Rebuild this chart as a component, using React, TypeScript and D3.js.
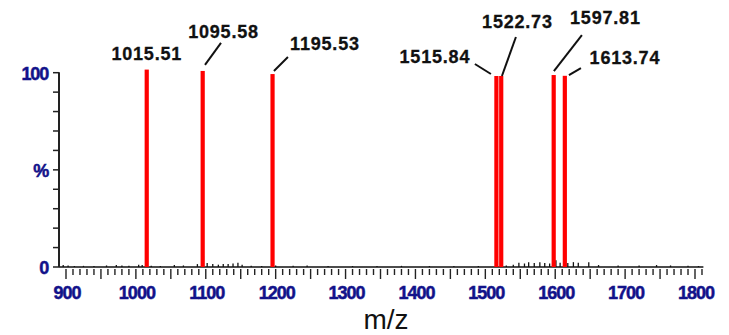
import * as d3 from 'd3';

// peaks (m/z, relative intensity %)
const peakMz = [1015.51, 1095.58, 1195.53, 1515.84, 1522.73, 1597.81, 1613.74];
const peakIntensity = [101.6, 100.9, 99.3, 98.3, 98.3, 98.8, 98.4];

// small background signals
const noiseMz = [896, 903, 912, 925, 940, 958, 972, 980, 990, 1004, 1009, 1022, 1035, 1055, 1068, 1088, 1096.6, 1102, 1110, 1118, 1125, 1132, 1139, 1146, 1152, 1165, 1180, 1200, 1225, 1245, 1275, 1310, 1345, 1380, 1420, 1455, 1490, 1530, 1540, 1548, 1556, 1562, 1570, 1578, 1585, 1592, 1601, 1607, 1618, 1626, 1633, 1648, 1662, 1690, 1720, 1745, 1765, 1790, 1805];
const noiseIntensity = [1, 0.8, 0.5, 0.6, 0.5, 0.8, 1, 0.8, 0.6, 1.2, 1, 0.6, 0.5, 1, 0.8, 1.5, 5.5, 2, 1.5, 1.2, 1.5, 1.5, 1.8, 2.2, 1.2, 0.6, 0.5, 0.8, 0.6, 0.8, 0.5, 0.5, 0.5, 0.6, 0.5, 0.5, 0.5, 0.8, 1.2, 2.2, 1.8, 2.5, 2, 2.5, 2, 1.8, 3.5, 2.2, 2, 2.5, 2.2, 2.5, 1, 0.8, 0.8, 1, 0.8, 0.7, 0.5];

const xTicks = [900, 1000, 1100, 1200, 1300, 1400, 1500, 1600, 1700, 1800];
const yTickValues = [0, 50, 100];
const yTickLabels = ['0', '%', '100'];

// label placement relative to peak top: [text dx, text dy, leader x1, y1, x2, y2]
const labelLayout: number[][] = [
  [0, -9.5],
  [20.8, -33, 18.3, -28, 2.3, -6],
  [52.4, -24, 15.4, -17, 1.4, -3],
  [-61.5, -13, -21.5, -12, -5.5, -2],
  [16.2, -48, 14.7, -39, 0.7, 0],
  [51.7, -51, 28.2, -40, 0.2, -4],
  [60.1, -11.7, 16.1, -7.7, 4.1, -0.7],
];

const W = 729;
const H = 335;
const navy = '#12128a';

export default function App() {
  const x = d3.scaleLinear().domain([900, 1800]).range([66, 695]);
  const y = d3.scaleLinear().domain([0, 100]).range([267, 72.7]);
  const x0 = 59;
  const xEnd = x(1812);

  const minor = d3.range(900, 1811, 10);
  const yMinor = d3.range(0, 101, 10);

  const baseline = d3.line()([[x0, y(0)], [xEnd, y(0)]]);

  return (
    <svg width={W} height={H} style={{ position: 'absolute', left: 0, top: 0, background: '#fff' }}
      fontFamily="'Liberation Sans', Arial, sans-serif">
      {/* baseline + noise sticks */}
      <path d={baseline ?? ''} stroke="#111" strokeWidth={1.5} fill="none" />
      {noiseMz.map((m, i) => (
        <line key={'n' + i} x1={x(m)} x2={x(m)} y1={y(0)} y2={y(noiseIntensity[i])} stroke="#111" strokeWidth={1.3} />
      ))}

      {/* y axis */}
      <line x1={x0} x2={x0} y1={y(100) - 0.5} y2={y(0)} stroke="#222" strokeWidth={2} />
      {yMinor.map(v => (
        <line key={'yt' + v} x1={x0 - 6} x2={x0} y1={y(v)} y2={y(v)} stroke="#222" strokeWidth={1.5} />
      ))}
      {yTickValues.map((v, i) => (
        <text key={'yl' + v} x={x0 - 11} y={y(v) + 7} textAnchor="end" fontSize={18} fontWeight="bold"
          letterSpacing={-1.2} fill={navy} stroke={navy} strokeWidth={0.5}>{yTickLabels[i]}</text>
      ))}

      {/* x ticks */}
      {minor.map(v => (
        <line key={'xt' + v} x1={x(v)} x2={x(v)} y1={269} y2={v % 50 === 0 ? 279 : 275} stroke="#222" strokeWidth={1.4} />
      ))}
      {xTicks.map(v => (
        <text key={'xl' + v} x={x(v) + 1} y={299} textAnchor="middle" fontSize={18} fontWeight="bold"
          letterSpacing={-1} fill={navy} stroke={navy} strokeWidth={0.5}>{v}</text>
      ))}
      <text x={386} y={329} textAnchor="middle" fontSize={28} fill="#111">m/z</text>

      {/* peaks */}
      {peakMz.map((m, i) => (
        <rect key={'p' + i} x={x(m) - 2.1} width={4.2} y={y(peakIntensity[i])} height={y(0) - y(peakIntensity[i])}
          fill="#ff0000" />
      ))}

      {/* peak labels */}
      {peakMz.map((m, i) => {
        const px = x(m);
        const py = y(peakIntensity[i]);
        const l = labelLayout[i];
        return (
          <g key={'l' + i}>
            {l.length > 2 && (
              <line x1={px + l[2]} y1={py + l[3]} x2={px + l[4]} y2={py + l[5]} stroke="#111" strokeWidth={2} />
            )}
            <text x={px + l[0]} y={py + l[1]} textAnchor="middle" fontSize={18} fontWeight="bold"
              letterSpacing={0.8} fill="#111" stroke="#111" strokeWidth={0.3}>{m.toFixed(2)}</text>
          </g>
        );
      })}
    </svg>
  );
}
